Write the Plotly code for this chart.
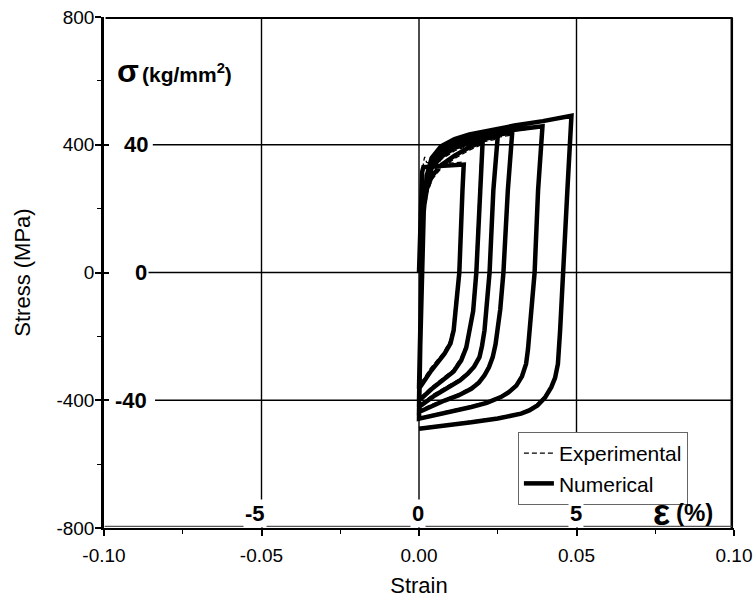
import plotly.graph_objects as go

# ---------------- data ----------------
# Numerical (solid) – six strain-controlled cycles, continuous path
num_L1_strain = [0.0000, 0.0006, 0.0010, 0.0014, 0.0030, 0.0060, 0.0100, 0.0142,
                 0.0138, 0.0128, 0.0110, 0.0100, 0.0081, 0.0039, 0.0000]
num_L1_stress = [0, 200, 315, 330, 331, 333, 336, 338,
                 257, 0, -181, -222, -254, -307, -364]

num_L2_strain = [0.0004, 0.0009, 0.0015, 0.0025, 0.0040, 0.0070, 0.0113, 0.0160, 0.0202,
                 0.0194, 0.0182, 0.0172, 0.0162, 0.0150, 0.0134, 0.0110, 0.0081, 0.0040, 0.0000]
num_L2_stress = [-150, 50, 200, 262, 300, 336, 366, 392, 410,
                 257, 0, -120, -181, -235, -275, -310, -333, -365, -401]

num_L3_strain = [0.0004, 0.0009, 0.0015, 0.0025, 0.0040, 0.0070, 0.0113, 0.0180, 0.0250,
                 0.0236, 0.0224, 0.0215, 0.0208, 0.0200, 0.0192, 0.0175, 0.0155, 0.0130,
                 0.0102, 0.0050, 0.0000]
num_L3_stress = [-180, 40, 205, 282, 326, 362, 390, 412, 427,
                 257, 0, -110, -181, -230, -265, -295, -317, -338, -354, -385, -421]

num_L4_strain = [0.0004, 0.0009, 0.0015, 0.0025, 0.0040, 0.0070, 0.0113, 0.0180, 0.0250,
                 0.0296, 0.0282, 0.0268, 0.0258, 0.0251, 0.0243, 0.0234, 0.0222, 0.0208,
                 0.0190, 0.0166, 0.0125, 0.0081, 0.0040, 0.0000]
num_L4_stress = [-200, 30, 200, 292, 338, 373, 398, 418, 431,
                 439, 257, 0, -115, -181, -225, -265, -297, -322, -345, -364, -385,
                 -401, -418, -437]

num_L5_strain = [0.0004, 0.0009, 0.0015, 0.0025, 0.0040, 0.0070, 0.0113, 0.0160, 0.0218,
                 0.0303, 0.0392, 0.0378, 0.0367, 0.0358, 0.0352, 0.0346, 0.0340, 0.0327,
                 0.0309, 0.0285, 0.0260, 0.0215, 0.0166, 0.0100, 0.0050, 0.0000]
num_L5_stress = [-210, 20, 195, 298, 348, 384, 405, 420, 432,
                 447, 458, 257, 0, -120, -181, -240, -286, -325, -354, -375, -390,
                 -408, -421, -435, -446, -458]

num_L6_strain = [0.0004, 0.0009, 0.0015, 0.0025, 0.0040, 0.0070, 0.0113, 0.0160, 0.0218,
                 0.0303, 0.0393, 0.0440, 0.0484, 0.0471, 0.0459, 0.0452, 0.0448, 0.0441,
                 0.0432, 0.0420, 0.0400, 0.0376, 0.0350, 0.0324, 0.0250, 0.0166, 0.0080, 0.0000]
num_L6_stress = [-230, 10, 190, 305, 358, 395, 418, 432, 444,
                 460, 474, 482, 491, 257, 0, -110, -181, -286, -330, -359, -392,
                 -416, -432, -442, -457, -469, -480, -489]

# Experimental (dashed)
exp_L1_strain = [0.0000, 0.0008, 0.0014, 0.0018, 0.0024, 0.0040, 0.0080, 0.0120, 0.0140,
                 0.0136, 0.0125, 0.0106, 0.0096, 0.0078, 0.0036, 0.0000]
exp_L1_stress = [0, 220, 345, 362, 345, 340, 341, 344, 346,
                 257, 0, -181, -218, -250, -300, -355]

exp_L2_strain = [0.0005, 0.0010, 0.0017, 0.0027, 0.0042, 0.0072, 0.0115, 0.0160, 0.0198,
                 0.0191, 0.0179, 0.0169, 0.0159, 0.0147, 0.0131, 0.0108, 0.0079, 0.0038, 0.0000]
exp_L2_stress = [-150, 40, 185, 250, 292, 328, 358, 383, 400,
                 257, 0, -120, -181, -232, -270, -305, -328, -360, -395]

exp_L3_strain = [0.0005, 0.0010, 0.0017, 0.0027, 0.0042, 0.0072, 0.0115, 0.0180, 0.0247,
                 0.0234, 0.0222, 0.0213, 0.0206, 0.0198, 0.0190, 0.0173, 0.0153, 0.0128,
                 0.0100, 0.0048, 0.0000]
exp_L3_stress = [-180, 30, 190, 272, 320, 355, 382, 404, 418,
                 257, 0, -110, -181, -228, -262, -292, -313, -334, -350, -380, -415]

exp_L4_strain = [0.0005, 0.0010, 0.0017, 0.0027, 0.0042, 0.0072, 0.0115, 0.0180, 0.0250,
                 0.0293, 0.0280, 0.0266, 0.0256, 0.0249, 0.0241, 0.0232, 0.0220, 0.0206,
                 0.0188, 0.0164, 0.0123, 0.0079, 0.0038, 0.0000]
exp_L4_stress = [-200, 20, 188, 285, 332, 368, 390, 410, 423,
                 430, 257, 0, -115, -181, -222, -262, -294, -318, -341, -360, -381,
                 -397, -414, -432]

exp_L5_strain = [0.0005, 0.0010, 0.0017, 0.0027, 0.0042, 0.0072, 0.0115, 0.0160, 0.0218,
                 0.0303, 0.0390, 0.0377, 0.0365, 0.0356, 0.0350, 0.0344, 0.0338, 0.0325,
                 0.0307, 0.0283, 0.0258, 0.0213, 0.0164, 0.0098, 0.0048, 0.0000]
exp_L5_stress = [-210, 10, 185, 292, 343, 380, 400, 415, 428,
                 443, 455, 257, 0, -120, -181, -238, -283, -322, -351, -372, -387,
                 -405, -418, -432, -443, -455]

exp_L6_strain = [0.0005, 0.0010, 0.0017, 0.0027, 0.0042, 0.0072, 0.0115, 0.0160, 0.0218,
                 0.0303, 0.0393, 0.0440, 0.0482, 0.0469, 0.0457, 0.0450, 0.0445, 0.0439,
                 0.0430, 0.0418, 0.0398, 0.0374, 0.0348, 0.0322, 0.0248, 0.0164, 0.0078, 0.0000]
exp_L6_stress = [-230, 0, 180, 298, 352, 390, 414, 428, 441,
                 457, 471, 479, 488, 257, 0, -110, -181, -283, -327, -356, -389,
                 -413, -429, -439, -454, -466, -477, -486]

x_ticks = [-0.10, -0.05, 0.00, 0.05, 0.10]
x_tick_text = ["-0.10", "-0.05", "0.00", "0.05", "0.10"]
y_ticks = [-800, -400, 0, 400, 800]
y_tick_text = ["-800", "-400", "0", "400", "800"]

# scanned-figure overlay labels
scan_y_labels = ["40", "0", "-40"]
scan_y_values = [400, 0, -400]
scan_x_labels = ["-5", "0", "5"]
scan_x_values = [-0.05, 0.0, 0.05]

# ---------------- build ----------------
num_x = num_L1_strain + num_L2_strain + num_L3_strain + num_L4_strain + num_L5_strain + num_L6_strain
num_y = num_L1_stress + num_L2_stress + num_L3_stress + num_L4_stress + num_L5_stress + num_L6_stress
exp_x = exp_L1_strain + exp_L2_strain + exp_L3_strain + exp_L4_strain + exp_L5_strain + exp_L6_strain
exp_y = exp_L1_stress + exp_L2_stress + exp_L3_stress + exp_L4_stress + exp_L5_stress + exp_L6_stress

fig = go.Figure()
fig.add_trace(go.Scatter(x=num_x, y=num_y, mode="lines", name="Numerical", legendrank=2,
                         line=dict(color="black", width=4.5)))
fig.add_trace(go.Scatter(x=exp_x, y=exp_y, mode="lines", name="Experimental", legendrank=1,
                         line=dict(color="black", width=1.3, dash="5px,3px")))
# helper trace so the overlay axes (inside tick marks) are drawn
fig.add_trace(go.Scatter(x=[None], y=[None], xaxis="x2", yaxis="y2",
                         showlegend=False, hoverinfo="skip"))

LBL = "Liberation Sans Narrow, Arial Narrow, Arial, sans-serif"
AR = "Liberation Sans, Arial, sans-serif"
shapes = []
# scanned grid: vertical lines
for xv in scan_x_values:
    shapes.append(dict(type="line", xref="x", yref="y", x0=xv, x1=xv, y0=-720, y1=800,
                       line=dict(color="black", width=1.4), layer="below"))
# scanned grid: horizontal lines (start right of the printed labels)
for yv, xs in zip(scan_y_values, [-0.0845, -0.0862, -0.0838]):
    shapes.append(dict(type="line", xref="x", yref="y", x0=xs, x1=0.0994, y0=yv, y1=yv,
                       line=dict(color="black", width=1.4), layer="below"))
# scan frame: top and right border
shapes.append(dict(type="line", xref="x", yref="y", x0=-0.0995, x1=0.0996, y0=797, y1=797,
                   line=dict(color="black", width=2), layer="below"))
shapes.append(dict(type="line", xref="x", yref="y", x0=0.0993, x1=0.0993, y0=-815, y1=797,
                   line=dict(color="black", width=2.5), layer="below"))
shapes.append(dict(type="line", xref="x", yref="y", x0=-0.0998, x1=0.0993, y0=-795, y1=-795,
                   line=dict(color="#555", width=1.2), layer="below"))

annotations = []
for t, yv, xv in zip(scan_y_labels, scan_y_values, [-0.0897, -0.0884, -0.0915]):
    annotations.append(dict(x=xv, y=yv, xref="x", yref="y", text="<b>" + t + "</b>",
                            showarrow=False, font=dict(family=LBL, size=22, color="black"),
                            xanchor="center", yanchor="middle", bgcolor="white"))
for t, xv in zip(scan_x_labels, [-0.0522, -0.0003, 0.0497]):
    annotations.append(dict(x=xv, y=-755, xref="x", yref="y", text="<b>" + t + "</b>",
                            showarrow=False, font=dict(family=LBL, size=22, color="black"),
                            xanchor="center", yanchor="middle", bgcolor="white"))
# σ (kg/mm²)
annotations.append(dict(x=-0.0965, y=630, xref="x", yref="y", text="<b>σ</b>",
                        showarrow=False, font=dict(family=LBL, size=32, color="black"),
                        xanchor="left", yanchor="middle"))
annotations.append(dict(x=-0.0885, y=624, xref="x", yref="y", text="<b>(kg/mm<sup>2</sup>)</b>",
                        showarrow=False, font=dict(family=LBL, size=21, color="black"),
                        xanchor="left", yanchor="middle"))
# ε(%)
annotations.append(dict(x=0.0738, y=-752, xref="x", yref="y", text="<b>ε</b>",
                        showarrow=False, font=dict(family=LBL, size=36, color="black"),
                        xanchor="left", yanchor="middle"))
annotations.append(dict(x=0.0808, y=-752, xref="x", yref="y", text="<b>(%)</b>",
                        showarrow=False, font=dict(family=LBL, size=24, color="black"),
                        xanchor="left", yanchor="middle"))

TICKFONT = dict(family=AR, size=19, color="black")

fig.update_layout(
    width=755, height=606,
    margin=dict(l=104, r=21, t=17, b=78),
    paper_bgcolor="white", plot_bgcolor="white",
    showlegend=True,
    legend=dict(x=0.657, y=0.188, xanchor="left", yanchor="top",
                bgcolor="white", bordercolor="#666", borderwidth=1,
                font=dict(family=AR, size=21, color="black"),
                tracegroupgap=0, itemwidth=30),
    xaxis=dict(range=[-0.10, 0.10], tickvals=x_ticks, ticktext=x_tick_text, automargin=False,
               showgrid=False, zeroline=False, showline=True, linecolor="black", linewidth=2,
               ticks="outside", ticklen=6, tickwidth=1.5, tickcolor="black",
               minor=dict(tickvals=[-0.075, -0.025, 0.025, 0.075], ticks="outside",
                          ticklen=4, tickwidth=1.2, tickcolor="black", showgrid=False),
               tickfont=TICKFONT, ticklabelstandoff=3,
               title=dict(text="Strain", font=dict(family=AR, size=22, color="black"), standoff=13)),
    yaxis=dict(range=[-800, 800], tickvals=y_ticks, ticktext=y_tick_text, automargin=False,
               showgrid=False, zeroline=False, showline=True, linecolor="black", linewidth=2.5,
               ticks="outside", ticklen=6, tickwidth=1.5, tickcolor="black",
               minor=dict(tickvals=[-600, -200, 200, 600], ticks="outside",
                          ticklen=4, tickwidth=1.2, tickcolor="black", showgrid=False),
               tickfont=TICKFONT, ticklabelstandoff=-3,
               title=dict(text="Stress (MPa)", font=dict(family=AR, size=22, color="black"), standoff=20)),
    xaxis2=dict(range=[-0.10, 0.10], overlaying="x", anchor="y", side="bottom", automargin=False,
                tickvals=x_ticks, ticks="inside", ticklen=5, tickwidth=1.5, tickcolor="black",
                showticklabels=False, showgrid=False, zeroline=False, showline=False),
    yaxis2=dict(range=[-800, 800], overlaying="y", anchor="x", side="left", automargin=False,
                tickvals=y_ticks, ticks="inside", ticklen=5, tickwidth=1.5, tickcolor="black",
                showticklabels=False, showgrid=False, zeroline=False, showline=False),
    shapes=shapes, annotations=annotations,
)

fig.write_html("out.html")
